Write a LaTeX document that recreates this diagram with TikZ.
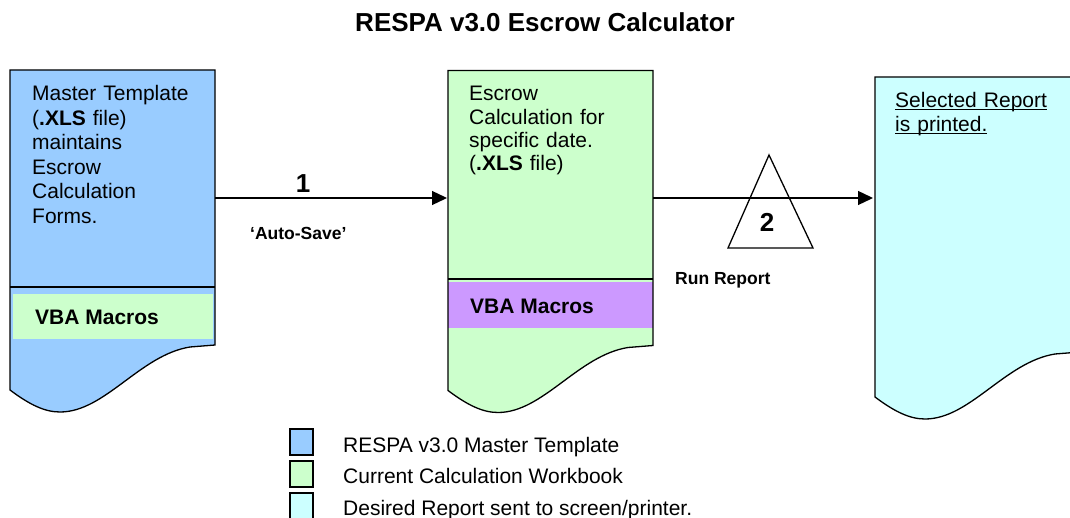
\documentclass[tikz,border=0pt]{standalone}
\usepackage{fontspec}
\setmainfont{Liberation Sans}
\usetikzlibrary{arrows.meta}
\definecolor{mblue}{HTML}{99CCFF}
\definecolor{mgreen}{HTML}{CCFFCC}
\definecolor{mcyan}{HTML}{CCFFFF}
\definecolor{mpurple}{HTML}{CC99FF}
\tikzset{
  docborder/.style={draw=black, line width=1.3pt, line join=miter},
  body/.style={inner sep=0pt, anchor=base west, align=left, text width=190pt,
    font=\fontsize{21}{24.5}\selectfont},
  boldlbl/.style={inner sep=0pt, font=\bfseries\fontsize{17.5}{20}\selectfont},
  bignum/.style={inner sep=0pt, anchor=base, font=\bfseries\fontsize{26}{30}\selectfont},
  arr/.style={line width=1.3pt, -{Triangle[length=15pt,width=14pt]}},
  legbox/.style={draw=black, line width=1.5pt},
  legtext/.style={inner sep=0pt, anchor=base west, font=\fontsize{21}{24}\selectfont},
}
\newcommand{\docshape}{(0,0) -- (205,0) -- (205,275) -- (180,277)
  .. controls (130,285) and (95,342) .. (50,342)
  .. controls (35,342) and (20,335) .. (0,320) -- cycle}
\newcommand{\myul}[1]{\underline{\smash{#1}}}
\begin{document}
\begin{tikzpicture}[x=1pt,y=-1pt]
\useasboundingbox (0,0) rectangle (1070,518);
\clip (0,0) rectangle (1070,518);

% title
\node[inner sep=0pt, anchor=base, font=\bfseries\fontsize{26}{30}\selectfont] (title) at (545,32) {RESPA v3.0 Escrow Calculator};

% document 1
\fill[mblue, shift={(10,70)}] \docshape;
\fill[mgreen] (13,294) rectangle (213,339);
\draw[line width=1.3pt] (10,287) -- (215,287);
\draw[docborder, shift={(10,70)}] \docshape;
\node[body] (t1) at (32,101) {Master Template\\(\textbf{.XLS} file)\\maintains\\Escrow\\Calculation\\Forms.};
\node[inner sep=0pt, anchor=base west, font=\bfseries\fontsize{21}{24}\selectfont] (vba1) at (35,325) {VBA Macros};

% document 2
\fill[mgreen, shift={(448,70.5)}] \docshape;
\fill[mpurple] (448,282) rectangle (653,328);
\draw[line width=1.3pt] (448,279) -- (653,279);
\draw[docborder, shift={(448,70.5)}] \docshape;
\node[body, font=\fontsize{21}{23.3}\selectfont] (t2) at (469,101) {Escrow\\Calculation for\\specific date.\\(\textbf{.XLS} file)};
\node[inner sep=0pt, anchor=base west, font=\bfseries\fontsize{21}{24}\selectfont] (vba2) at (470,313) {VBA Macros};

% document 3
\fill[mcyan, shift={(875,77)}] \docshape;
\draw[docborder, shift={(875,77)}] \docshape;
\node[body, font=\fontsize{21}{24}\selectfont] (t3) at (895,108) {\myul{Selected Report}\\\myul{is printed.}};

% connectors
\coordinate (d1e) at (215,198);
\coordinate (d2w) at (447,198);
\coordinate (d2e) at (653,198);
\coordinate (d3w) at (873,198);
\draw[arr] (d1e) -- (d2w);
\draw[arr] (d2e) -- (d3w);
\node[bignum] (n1) at (303,193) {1};
\node[boldlbl, anchor=base west] (autosave) at (250,240) {‘Auto-Save’};

% triangle 2
\draw[line width=1.3pt, line join=miter] (769,155) -- (813,248) -- (728,248) -- cycle;
\node[bignum] (n2) at (767,232) {2};
\node[boldlbl, anchor=base west] (runrep) at (675,285) {Run Report};

% legend
\draw[legbox, fill=mblue] (290,429) rectangle (313,455);
\draw[legbox, fill=mgreen] (290,461) rectangle (313,487);
\draw[legbox, fill=mcyan] (290,493) rectangle (313,519);
\node[legtext] (l1) at (343,452) {RESPA v3.0 Master Template};
\node[legtext] (l2) at (343,483.5) {Current Calculation Workbook};
\node[legtext] (l3) at (343,515) {Desired Report sent to screen/printer.};
\end{tikzpicture}
\end{document}
